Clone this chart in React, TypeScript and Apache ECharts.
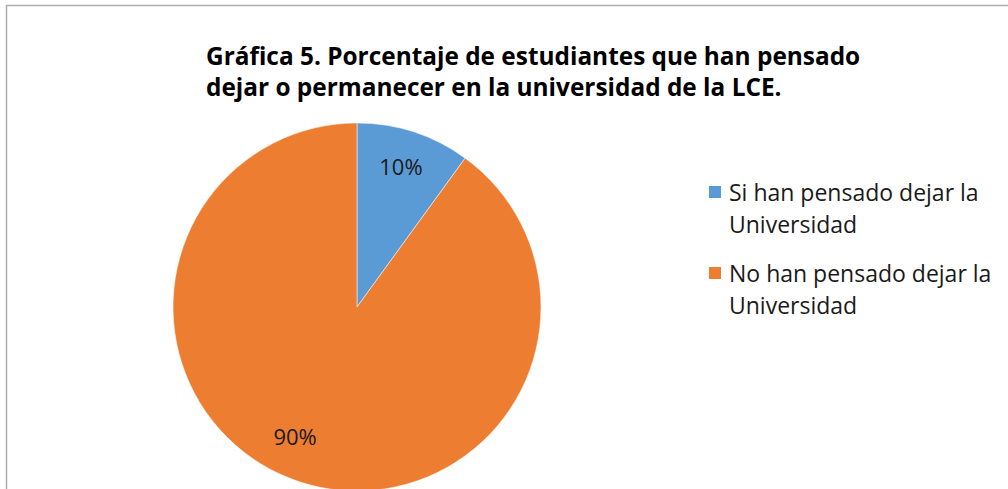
import React, { useEffect, useRef } from "react";
import * as echarts from "echarts";

const titleLines = [
  "Gráfica 5. Porcentaje de estudiantes que han pensado",
  "dejar o permanecer en la universidad de la LCE.",
];
const categories = [
  "Si han pensado dejar la Universidad",
  "No han pensado dejar la Universidad",
];
const values = [10, 90];
const colors = ["#5B9BD5", "#ED7D31"];

const FONT = "'Open Sans', 'Noto Sans', sans-serif";

export default function App() {
  const ref = useRef<HTMLDivElement>(null);
  useEffect(() => {
    if (!ref.current) return;
    const chart = echarts.init(ref.current, undefined, { renderer: "svg" });
    const data = categories.map((name, i) => ({
      name,
      value: values[i],
      itemStyle: { color: colors[i] },
    }));
    const labelOffsets = [
      [-2, 0],
      [-16, -12],
    ];
    const legendFmt = (name: string) => {
      const idx = name.indexOf("Universidad");
      return "\n" + name.slice(0, idx).trim() + "\n" + name.slice(idx);
    };
    const legendTops = [144, 225];
    chart.setOption({
      animation: false,
      backgroundColor: "#ffffff",
      title: {
        text: titleLines.join("\n"),
        left: 201,
        top: 35,
        textStyle: {
          fontFamily: FONT,
          fontWeight: "bold",
          fontSize: 24.4,
          lineHeight: 31,
          color: "#000000",
        },
      },
      legend: categories.map((name, i) => ({
        data: [name],
        orient: "vertical",
        left: 707,
        top: legendTops[i],
        padding: 0,
        itemWidth: 14,
        itemHeight: 14,
        itemGap: 0,
        icon: "rect",
        selectedMode: false,
        formatter: legendFmt,
        textStyle: {
          fontFamily: FONT,
          fontSize: 23,
          lineHeight: 32,
          color: "#1a1a1a",
          padding: [0, 0, 0, 2],
        },
      })),
      graphic: [
        {
          type: "rect",
          shape: { x: 6.5, y: 5.5, width: 1200, height: 700 },
          style: { fill: "none", stroke: "#adadad", lineWidth: 1.5 },
          silent: true,
          z: 100,
        },
      ],
      series: [
        {
          type: "pie",
          center: [357, 307],
          radius: [0, 184],
          startAngle: 90,
          clockwise: true,
          label: { show: false },
          labelLine: { show: false },
          itemStyle: { borderColor: "#ffffff", borderWidth: 0.5 },
          data,
        },
        {
          type: "pie",
          center: [357, 307],
          radius: [107, 184],
          startAngle: 90,
          clockwise: true,
          silent: true,
          itemStyle: { color: "rgba(0,0,0,0)", opacity: 0 },
          label: {
            show: true,
            position: "inside",
            formatter: (p: any) => p.value + "%",
            fontFamily: FONT,
            fontSize: 22,
            color: "#1a1a1a",
            opacity: 1,
          },
          labelLine: { show: false },
          data: categories.map((name, i) => ({
            name,
            value: values[i],
            label: { offset: labelOffsets[i] },
          })),
        },
      ],
    });
    return () => chart.dispose();
  }, []);
  return (
    <div
      ref={ref}
      style={{ position: "fixed", left: 0, top: 0, width: 1008, height: 489 }}
    />
  );
}
